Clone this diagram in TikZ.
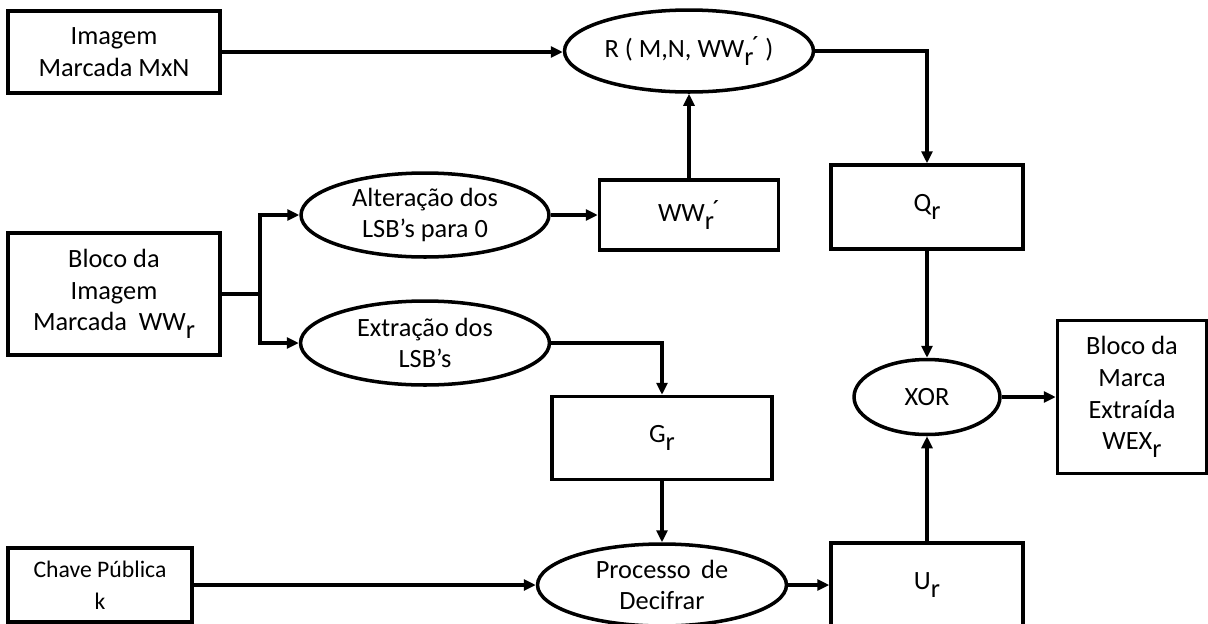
\documentclass[tikz,border=0pt]{standalone}
\usepackage{fontspec}
\setmainfont{Carlito}
\usetikzlibrary{shapes.geometric,arrows.meta}

\newcommand{\sbr}{\raisebox{-0.3em}{r}}
\newcommand{\wwlinha}{WW\rlap{\sbr}\hspace{0.28em}\raisebox{0.12em}{´}}

\tikzset{
    blk/.style={draw, line width=2pt, inner sep=0pt, align=center,
        font=\fontsize{15}{18}\selectfont},
    oval/.style={blk, ellipse},
    arr/.style={line width=2pt, -{Triangle[length=0.24cm,width=0.22cm]}},
    ln/.style={line width=2pt}
}

\begin{document}
\begin{tikzpicture}[x=0.02cm, y=-0.02cm]
        \useasboundingbox (0,0) rectangle (1208,623);
        \clip (0,0) rectangle (1208,623);

        % entradas
        \node[blk, minimum width=4.24cm, minimum height=1.64cm] (img) at (114,52) {Imagem\\Marcada MxN};
        \node[blk, minimum width=4.24cm, minimum height=2.44cm] (bloco) at (114,294) {Bloco da\\Imagem\\Marcada \ WW\sbr};
        \node[blk, minimum width=3.68cm, minimum height=1.48cm, font=\fontsize{13.5}{18}\selectfont] (chave) at (100,585) {Chave P\'ublica\\k};

        % processos
        \node[oval, minimum width=4.98cm, minimum height=1.64cm] (R) at (689,51) {R ( M,N, \wwlinha\ )};
        \node[oval, minimum width=4.96cm, minimum height=1.68cm] (alt) at (425,215) {Altera\c{c}\~ao dos\\LSB’s para 0};
        \node[oval, minimum width=4.98cm, minimum height=1.68cm] (ext) at (425,343) {Extra\c{c}\~ao dos\\LSB’s};
        \node[oval, minimum width=4.98cm, minimum height=1.64cm] (proc) at (662,585) {Processo \,de\\Decifrar};
        \node[oval, minimum width=2.92cm, minimum height=1.5cm] (xor) at (927,397) {XOR};

        % blocos intermedios
        \node[blk, minimum width=3.58cm, minimum height=1.4cm] (ww) at (689,215) {\wwlinha};
        \node[blk, minimum width=3.84cm, minimum height=1.68cm] (q) at (927,207) {Q\sbr};
        \node[blk, minimum width=4.4cm, minimum height=1.66cm] (g) at (662,438) {G\sbr};
        \node[blk, minimum width=3.84cm, minimum height=1.68cm] (u) at (927,585) {U\sbr};
        \node[blk, minimum width=2.98cm, minimum height=3.06cm] (marca) at (1132,397) {Bloco da\\Marca\\Extra\'{\i}da\\WEX\sbr};

        % ligacoes
        \coordinate (split) at (260,294);
        \draw[arr] (img.east) -- (img.east -| R.west);
        \draw[arr] (R.east) -| (q.north);
        \draw[arr] (ww.north) -- (R.south);
        \draw[ln] (bloco.east) -- (split);
        \draw[arr] (split) |- (alt.west);
        \draw[arr] (split) |- (ext.west);
        \draw[arr] (alt.east) -- (ww.west);
        \draw[arr] (ext.east) -| (g.north);
        \draw[arr] (g.south) -- (proc.north);
        \draw[arr] (chave.east) -- (proc.west);
        \draw[arr] (proc.east) -- (u.west);
        \draw[arr] (q.south) -- (xor.north);
        \draw[arr] (u.north) -- (xor.south);
        \draw[arr] (xor.east) -- (marca.west);

    \end{tikzpicture}
\end{document}
